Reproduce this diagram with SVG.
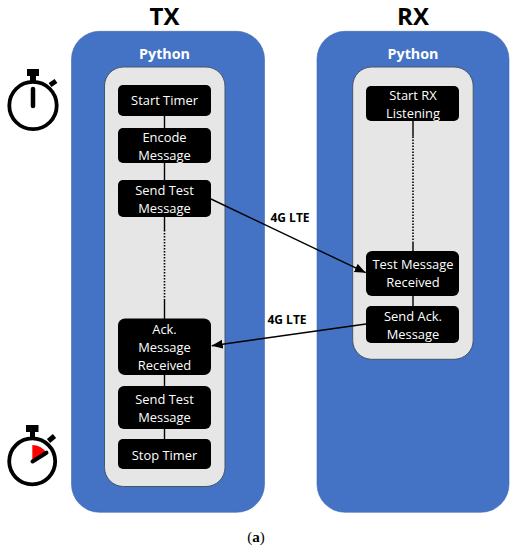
<svg xmlns="http://www.w3.org/2000/svg" width="517" height="550" viewBox="0 0 517 550">
<style>
text{font-family:"Open Sans","Noto Sans",sans-serif;text-anchor:middle}
.outer{fill:#4472c4;stroke:#3f68b2;stroke-width:.6}
.inner{fill:#e6e6e6;stroke:#44546a;stroke-width:1}
.box{fill:#000}
.t{fill:#fff;font-size:12.9px}
.h{fill:#000;font-size:24px;font-weight:700}
.py{fill:#fff;font-size:14.3px;font-weight:700}
.lte{fill:#000;font-size:12px;font-weight:700}
.c{stroke:#000;stroke-width:1.4;fill:none}
.d{stroke:#000;stroke-width:1.6;fill:none;stroke-dasharray:1.5 1.5}
.w{stroke:#000;stroke-width:3.8;fill:none}
</style>
<defs>
<marker id="a" markerUnits="userSpaceOnUse" markerWidth="12" markerHeight="10" refX="11" refY="4.5" orient="auto"><path d="M0 0L11 4.5L0 9z" fill="#000"/></marker>
</defs>
<text class="h" x="164.500" y="25">TX</text>
<text class="h" x="413" y="25">RX</text>
<g id="tx-env"><rect class="outer" x="71.500" y="31.300" width="193" height="481" rx="28"/><text class="py" x="164.500" y="59">Python</text><rect class="inner" x="104.500" y="67" width="120.500" height="419.500" rx="19"/></g>
<g id="rx-env"><rect class="outer" x="317" y="31.300" width="192" height="481" rx="28"/><text class="py" x="413" y="59">Python</text><rect class="inner" x="352.700" y="67" width="120.500" height="292.300" rx="19"/></g>
<g id="connectors">
<path class="c" d="M164.500 116V128M164.500 163V180M164.500 217V230M164.500 300V319M164.500 375V386M164.500 429V439M413 121V136.500M413 241.500V251M413 296V306"/>
<path class="d" d="M164.500 230V300M413 136.500V241.500"/>
<path class="c" marker-end="url(#a)" d="M211 199L365.700 272.700"/>
<path class="c" marker-end="url(#a)" d="M366 324L211.700 345.700"/>
</g>
<g id="n1"><rect class="box" x="118" y="85" width="93" height="31" rx="5"/><text class="t" x="164.500" y="105.300">Start Timer</text></g>
<g id="n2"><rect class="box" x="118" y="128" width="93" height="35" rx="5"/><text class="t" x="164.500" y="142">Encode</text><text class="t" x="164.500" y="160">Message</text></g>
<g id="n3"><rect class="box" x="118" y="180" width="93" height="37" rx="5"/><text class="t" x="164.500" y="195">Send Test</text><text class="t" x="164.500" y="213">Message</text></g>
<g id="n4"><rect class="box" x="118" y="318.500" width="93" height="56.500" rx="7"/><text class="t" x="164.500" y="334">Ack.</text><text class="t" x="164.500" y="352">Message</text><text class="t" x="164.500" y="370">Received</text></g>
<g id="n5"><rect class="box" x="118" y="386" width="93" height="43" rx="6"/><text class="t" x="164.500" y="404">Send Test</text><text class="t" x="164.500" y="422">Message</text></g>
<g id="n6"><rect class="box" x="118" y="439" width="93" height="30" rx="5"/><text class="t" x="164.500" y="459.500">Stop Timer</text></g>
<g id="n7"><rect class="box" x="366" y="86" width="93" height="35" rx="5"/><text class="t" x="413" y="100">Start RX</text><text class="t" x="413" y="118">Listening</text></g>
<g id="n8"><rect class="box" x="366" y="251" width="93" height="45" rx="6"/><text class="t" x="413" y="269">Test Message</text><text class="t" x="413" y="287">Received</text></g>
<g id="n9"><rect class="box" x="366" y="306" width="93" height="37" rx="5"/><text class="t" x="413" y="320.500">Send Ack.</text><text class="t" x="413" y="338.500">Message</text></g>
<text class="lte" x="290" y="222">4G LTE</text>
<text class="lte" x="287" y="324">4G LTE</text>
<g id="watch-start"><circle class="w" cx="33" cy="105.500" r="23.700"/><rect x="27" y="69" width="12" height="7" fill="#000"/><rect x="30" y="75" width="6" height="8" fill="#000"/><path d="M33 89V106" stroke="#000" stroke-width="4.500" stroke-linecap="round"/><path d="M50 85L56 81" stroke="#000" stroke-width="5"/></g>
<g id="watch-stop"><circle class="w" cx="32.200" cy="461.300" r="23"/><rect x="26" y="425" width="12.500" height="7" fill="#000"/><rect x="30" y="431" width="5" height="6" fill="#000"/><path d="M32.300 445V460L46.700 453Q41 445 32.300 445z" fill="#f00"/><path d="M32.500 461.500L46.500 452.700" stroke="#000" stroke-width="4" stroke-linecap="round"/><path d="M48.500 441L54.500 436" stroke="#000" stroke-width="5"/></g>
<text x="256" y="542" style="font-family:'Liberation Serif',serif;font-size:15px">(<tspan font-weight="700">a</tspan>)</text>
</svg>
